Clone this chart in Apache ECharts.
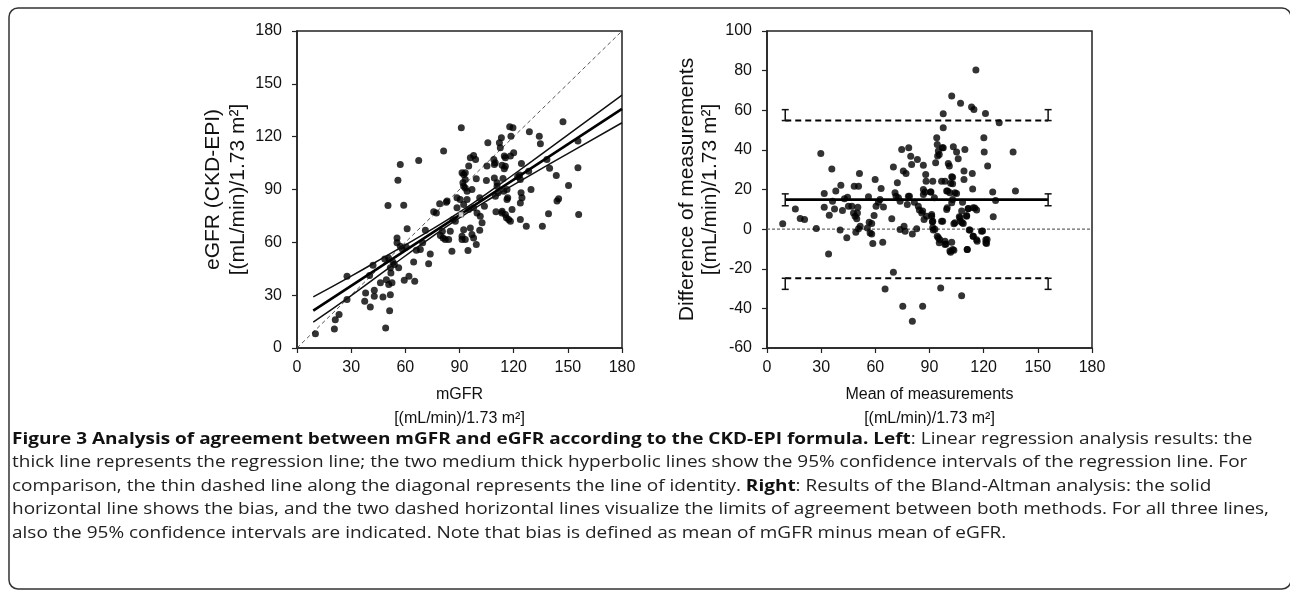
<!DOCTYPE html>
<html>
<head>
<meta charset="utf-8">
<script src="https://cdn.jsdelivr.net/npm/echarts@6/dist/echarts.min.js"></script>
<style>
html,body{margin:0;padding:0;background:#fff;}
#chart{width:1290px;height:591px;}
</style>
</head>
<body>
<div id="chart"></div>
<script>
// ---------- DATA ----------
const xTickLabels = [0, 30, 60, 90, 120, 150, 180];
const leftYTickLabels = [0, 30, 60, 90, 120, 150, 180];
const rightYTickLabels = [-60, -40, -20, 0, 20, 40, 60, 80, 100];

// Left: mGFR (x) vs eGFR CKD-EPI (y)
const mGFR = [10.2,20.7,21.2,23.3,27.7,27.7,37.5,38.0,40.6,40.2,42.1,42.8,42.8,46.2,47.6,49.1,48.6,50.4,49.5,50.8,
51.3,51.7,52.0,52.6,51.7,53.2,53.9,55.4,55.9,56.3,57.2,57.2,58.2,59.1,59.4,60.5,61.0,62.0,64.6,65.2,
66.1,67.4,68.3,69.6,71.1,72.9,73.8,75.7,77.2,79.0,79.4,80.5,80.9,81.2,83.1,84.0,85.8,86.4,87.7,90.4,
91.0,91.4,91.9,92.3,92.3,91.4,91.4,93.2,94.2,94.2,95.1,94.7,95.1,96.0,96.9,96.9,97.8,97.8,98.9,99.3,
99.3,99.7,101.2,101.2,102.5,103.8,104.9,105.2,105.7,109.0,109.3,109.3,109.9,110.2,110.8,111.4,112.1,112.6,113.2,113.6,
113.6,114.1,114.5,114.8,114.8,115.4,116.0,116.7,117.2,117.8,118.2,118.5,119.1,119.6,120.0,123.3,123.7,123.7,123.7,124.1,
124.3,124.6,127.0,128.3,128.7,129.6,134.2,134.8,135.9,138.4,139.3,139.9,143.6,144.0,144.9,147.3,150.4,155.6,155.6,156.0,
109.8,115.4,115.4,92.3,93.2,122.2,93.2,110.8,116.3,88.6,116.3,97.8,101.5,113.5,118.2,84.9,92.3,96.0,93.2,82.1,
50.7,55.4,82.7,88.6];
const eGFR = [8.1,10.8,16.1,19.0,27.5,40.7,26.5,31.3,23.3,41.1,47.0,29.4,32.8,37.0,29.0,11.4,50.6,80.9,38.8,36.0,
21.2,30.3,42.6,37.0,45.5,48.7,47.4,62.5,95.3,45.5,104.2,57.8,56.3,81.1,38.5,57.4,67.7,40.7,48.9,37.9,
55.5,106.5,55.9,59.7,66.9,47.9,53.4,77.3,76.7,81.9,63.9,66.3,62.5,111.8,83.4,61.6,55.0,73.0,72.0,84.3,
125.0,99.5,93.8,91.9,81.5,63.5,61.6,99.5,84.3,89.0,78.6,55.3,103.3,108.0,90.0,64.4,109.3,62.5,107.1,96.1,
58.7,76.7,85.3,66.9,71.1,80.5,95.1,103.3,116.5,107.1,96.6,104.2,86.2,77.3,91.9,88.1,116.5,113.7,119.4,103.8,
77.7,96.3,89.0,101.8,109.0,75.8,73.9,85.3,73.0,125.6,109.0,120.3,78.6,125.0,110.9,98.2,95.7,82.4,73.0,88.1,
104.8,85.3,69.2,100.4,122.8,90.0,120.3,116.0,69.2,107.1,76.2,102.0,98.0,83.4,84.7,128.5,92.3,117.5,102.3,75.8,
105.2,108.0,103.2,98.5,95.7,97.2,90.9,93.8,90.0,85.3,84.3,79.6,74.8,76.7,72.0,66.3,67.2,68.2,61.6,61.6,
51.1,59.7,82.8,79.6];
const meanPoint = [[90.9, 75.8]];

// Regression line and its 95% CI
const regX = [9, 180];
const regY = [21.2, 135.8];
const ciX = [9, 30, 50, 70, 90, 110, 130, 150, 180];
const ciUpper = [29.0, 40.8, 52.6, 64.5, 77.1, 91.2, 106.0, 121.0, 143.6];
const ciLower = [14.7, 29.8, 44.8, 59.7, 73.9, 86.6, 98.6, 110.4, 127.9];
const identity = [[0, 0], [180, 180]];

// Right: Bland-Altman
const baMean = [8.7,15.7,18.4,20.8,27.3,29.8,31.7,31.7,34.1,34.5,35.9,36.3,37.4,38.1,40.5,40.9,41.8,42.9,44.2,44.6,
45.1,47.0,47.9,48.3,48.8,49.2,50.1,50.7,49.7,50.3,51.2,50.7,51.6,56.2,55.6,56.6,57.1,58.0,58.6,58.0,
59.3,59.9,60.4,61.7,62.6,63.2,64.5,64.1,65.4,69.1,70.0,70.9,71.5,70.0,72.2,72.8,73.7,74.6,75.2,75.5,
75.9,76.5,77.0,77.7,78.5,78.9,79.6,80.1,80.5,80.5,81.6,82.9,83.3,83.8,84.4,85.7,86.2,86.6,87.0,87.5,
87.9,88.1,88.4,90.6,91.2,91.6,91.8,91.8,92.7,93.0,93.4,94.0,94.3,94.9,95.4,94.9,95.4,95.8,96.2,96.7,
96.7,97.1,97.6,97.6,98.6,98.6,99.1,99.5,100.0,100.4,101.0,101.3,101.7,102.3,102.3,102.8,102.8,102.8,103.2,103.5,
104.1,104.1,105.0,105.0,105.9,106.5,107.2,107.2,107.8,108.3,108.7,109.1,109.1,109.6,110.5,110.9,111.5,112.4,113.3,113.7,
113.9,114.2,114.6,115.1,115.7,116.1,116.1,118.8,120.1,120.3,121.0,121.2,121.2,122.2,125.0,125.3,126.6,128.6,136.3,137.6,
94.5,97.6,102.3,101.7,86.6,90.8,86.6,99.5,102.3,99.8,107.8,111.4,114.2,86.2,78.3,91.2,91.8,97.3,106.9,108.1,
103.5,110.6,73.7,92.1,112.0,94.3,98.6,101.3,102.8,110.9,114.2,116.4,119.4,121.9,121.6];
const baDiff = [2.7,10.1,5.3,4.8,0.3,38.2,18.0,11.1,-12.5,7.0,30.3,14.1,10.2,19.2,-0.5,22.2,9.4,15.3,-4.4,16.1,
11.6,11.6,8.2,21.7,6.5,-1.6,8.2,21.7,5.2,11.1,28.1,0.2,1.5,16.3,0.6,3.5,-1.9,2.8,-7.3,-2.4,
6.9,25.1,11.6,13.6,14.9,20.5,11.2,-6.6,-30.2,5.2,31.3,18.3,16.6,-21.8,23.4,15.8,14.1,40.2,-38.9,29.3,
1.5,-1.1,28.1,12.4,41.1,16.6,36.8,32.6,-2.4,-46.5,13.6,0.2,35.2,11.6,9.6,8.2,-38.9,32.3,4.8,18.7,
27.6,24.2,6.5,18.7,6.5,3.7,24.2,0.8,15.8,0.0,33.5,46.1,42.7,39.4,37.7,-4.4,-6.9,-5.3,-29.7,24.2,
4.0,41.1,51.2,58.2,24.2,-6.1,-7.5,9.9,19.2,33.1,31.8,18.3,-11.7,67.2,-6.6,14.9,22.9,26.2,41.6,-10.7,
18.3,3.2,38.9,18.0,35.5,6.2,4.0,63.5,-33.6,13.6,2.8,29.3,25.1,40.2,6.5,-10.3,10.4,-0.5,61.6,28.1,
20.3,-3.6,60.4,10.7,80.3,-5.3,9.6,-1.1,46.1,38.9,58.4,-5.3,-6.9,31.8,18.8,6.2,14.4,53.7,38.9,19.2,
36.9,41.1,26.4,23.1,20.0,18.7,17.5,19.2,13.3,10.8,9.1,10.3,10.8,9.1,16.6,7.4,4.0,4.0,5.7,3.2,
2.7,6.9,-0.2,-0.5,-0.5,-3.6,-7.8,-11.1,-10.3,-10.3,-3.6,-6.1,-1.0,-5.2,-7.3];

const baXRange = [10.1, 155.7];
const bias = 14.9;
const upperLoA = 54.8;
const lowerLoA = -24.8;
// error bars: [x, from, to]
const ciBars = [
  [10.1, 11.8, 17.8], [155.7, 11.8, 17.8],
  [10.1, 54.8, 60.3], [155.7, 54.8, 60.3],
  [10.1, -24.8, -30.4], [155.7, -24.8, -30.4]
];

// ---------- CHART ----------
const zip = (a, b) => a.map((v, i) => [v, b[i]]);
const chart = echarts.init(document.getElementById('chart'), null, {renderer: 'canvas'});
const AX = '#222';
const FAM = 'Liberation Sans, Arial, sans-serif';
const tickFont = {fontFamily: FAM, fontSize: 16, color: '#111'};

function xAxisCfg(grid, name) {
  return {
    gridIndex: grid, type: 'value', min: 0, max: 180, interval: 30,
    axisLine: {show: true, onZero: false, lineStyle: {color: AX, width: 1.5}},
    axisTick: {show: true, inside: false, length: 5, lineStyle: {color: AX, width: 1.2}},
    axisLabel: Object.assign({margin: 12}, tickFont),
    splitLine: {show: false},
    name: name, nameLocation: 'middle', nameGap: 35,
    nameTextStyle: {fontFamily: FAM, fontSize: 16, color: '#111', lineHeight: 24}
  };
}
function yAxisCfg(grid, min, max, interval, name, gap, lh) {
  return {
    gridIndex: grid, type: 'value', min: min, max: max, interval: interval,
    axisLine: {show: true, onZero: false, lineStyle: {color: AX, width: 1.5}},
    axisTick: {show: true, inside: false, length: 5, lineStyle: {color: AX, width: 1.2}},
    axisLabel: Object.assign({margin: 15}, tickFont),
    splitLine: {show: false},
    name: name, nameLocation: 'middle', nameGap: gap,
    nameTextStyle: {fontFamily: FAM, fontSize: 21, color: '#111', lineHeight: lh}
  };
}

const captionFont = 'Open Sans, Noto Sans, sans-serif';
const CAP_SIZE = 16.5;
const capRich = {
  b: {fontFamily: captionFont, fontSize: CAP_SIZE, fontWeight: 'bold', fill: '#111'},
  n: {fontFamily: captionFont, fontSize: CAP_SIZE, fontWeight: 'normal', fill: '#222'}
};
const captionLines = [
  '{b|Figure 3 Analysis of agreement between mGFR and eGFR according to the CKD-EPI formula. Left}{n|: Linear regression analysis results: the}',
  '{n|thick line represents the regression line; the two medium thick hyperbolic lines show the 95% confidence intervals of the regression line. For}',
  '{n|comparison, the thin dashed line along the diagonal represents the line of identity. }{b|Right}{n|: Results of the Bland-Altman analysis: the solid}',
  '{n|horizontal line shows the bias, and the two dashed horizontal lines visualize the limits of agreement between both methods. For all three lines,}',
  '{n|also the 95% confidence intervals are indicated. Note that bias is defined as mean of mGFR minus mean of eGFR.}'
];
const captionY = [439, 462.5, 486, 509.5, 533];

const graphics = [
  {type: 'rect', shape: {x: 9, y: 8, width: 1282, height: 581, r: 9},
   style: {fill: 'none', stroke: '#333', lineWidth: 1.5}, silent: true, z: 0}
];
captionLines.forEach((t, i) => {
  graphics.push({type: 'text', x: 12, y: captionY[i], scaleX: 1.15,
    style: {text: t, rich: capRich, font: CAP_SIZE + 'px ' + captionFont,
            textAlign: 'left', textVerticalAlign: 'middle', verticalAlign: 'middle'}});
});

const option = {
  animation: false,
  backgroundColor: '#fff',
  grid: [
    {left: 297, top: 31, width: 325, height: 317, show: true, borderColor: AX, borderWidth: 1.5, backgroundColor: 'transparent'},
    {left: 767, top: 31, width: 325, height: 317, show: true, borderColor: AX, borderWidth: 1.5, backgroundColor: 'transparent'}
  ],
  xAxis: [
    xAxisCfg(0, 'mGFR\n[(mL/min)/1.73 m²]'),
    xAxisCfg(1, 'Mean of measurements\n[(mL/min)/1.73 m²]')
  ],
  yAxis: [
    yAxisCfg(0, 0, 180, 30, 'eGFR (CKD-EPI)\n[(mL/min)/1.73 m²]', 46, 25),
    yAxisCfg(1, -60, 100, 20, 'Difference of measurements\n[(mL/min)/1.73 m²]', 38, 22.5)
  ],
  series: [
    {name: 'Identity', type: 'line', xAxisIndex: 0, yAxisIndex: 0, data: identity, symbol: 'none',
     lineStyle: {color: '#555', width: 1, type: [4, 3]}, z: 3},
    {name: 'mGFR vs eGFR', type: 'scatter', xAxisIndex: 0, yAxisIndex: 0, data: zip(mGFR, eGFR),
     symbolSize: 7, itemStyle: {color: '#000'}, z: 4},
    {name: 'Upper 95% CI', type: 'line', xAxisIndex: 0, yAxisIndex: 0, data: zip(ciX, ciUpper), smooth: true,
     symbol: 'none', lineStyle: {color: '#111', width: 1.5}, z: 5},
    {name: 'Lower 95% CI', type: 'line', xAxisIndex: 0, yAxisIndex: 0, data: zip(ciX, ciLower), smooth: true,
     symbol: 'none', lineStyle: {color: '#111', width: 1.5}, z: 5},
    {name: 'Regression', type: 'line', xAxisIndex: 0, yAxisIndex: 0, data: zip(regX, regY),
     symbol: 'none', lineStyle: {color: '#000', width: 2.6}, z: 6},
    {name: 'Mean', type: 'scatter', xAxisIndex: 0, yAxisIndex: 0, data: meanPoint, symbol: 'rect', symbolSize: 5,
     itemStyle: {color: '#fff', borderColor: '#333', borderWidth: 0.8}, z: 7},

    {name: 'Zero', type: 'line', xAxisIndex: 1, yAxisIndex: 1, data: [[0, 0], [180, 0]], symbol: 'none',
     lineStyle: {color: '#666', width: 1.2, type: [3, 2]}, z: 3},
    {name: 'Bland-Altman', type: 'scatter', xAxisIndex: 1, yAxisIndex: 1, data: zip(baMean, baDiff),
     symbolSize: 7, itemStyle: {color: '#000'}, z: 4},
    {name: 'Bias', type: 'line', xAxisIndex: 1, yAxisIndex: 1, data: baXRange.map(x => [x, bias]), symbol: 'none',
     lineStyle: {color: '#000', width: 2.6}, z: 6},
    {name: 'Upper LoA', type: 'line', xAxisIndex: 1, yAxisIndex: 1, data: baXRange.map(x => [x, upperLoA]), symbol: 'none',
     lineStyle: {color: '#000', width: 2, type: [6, 4]}, z: 6},
    {name: 'Lower LoA', type: 'line', xAxisIndex: 1, yAxisIndex: 1, data: baXRange.map(x => [x, lowerLoA]), symbol: 'none',
     lineStyle: {color: '#000', width: 2, type: [6, 4]}, z: 6},
    {name: 'CI bars', type: 'custom', xAxisIndex: 1, yAxisIndex: 1, data: ciBars, encode: {x: 0, y: [1, 2]}, z: 7,
     renderItem: function (params, api) {
       const x = api.value(0), a = api.value(1), b = api.value(2);
       const p1 = api.coord([x, a]), p2 = api.coord([x, b]);
       const w = 3.5, st = {stroke: '#111', lineWidth: 1.5};
       return {type: 'group', children: [
         {type: 'line', shape: {x1: p1[0], y1: p1[1], x2: p2[0], y2: p2[1]}, style: st},
         {type: 'line', shape: {x1: p1[0] - w, y1: p1[1], x2: p1[0] + w, y2: p1[1]}, style: st},
         {type: 'line', shape: {x1: p2[0] - w, y1: p2[1], x2: p2[0] + w, y2: p2[1]}, style: st}
       ]};
     }}
  ],
  graphic: graphics
};
chart.setOption(option);
</script>
</body>
</html>
